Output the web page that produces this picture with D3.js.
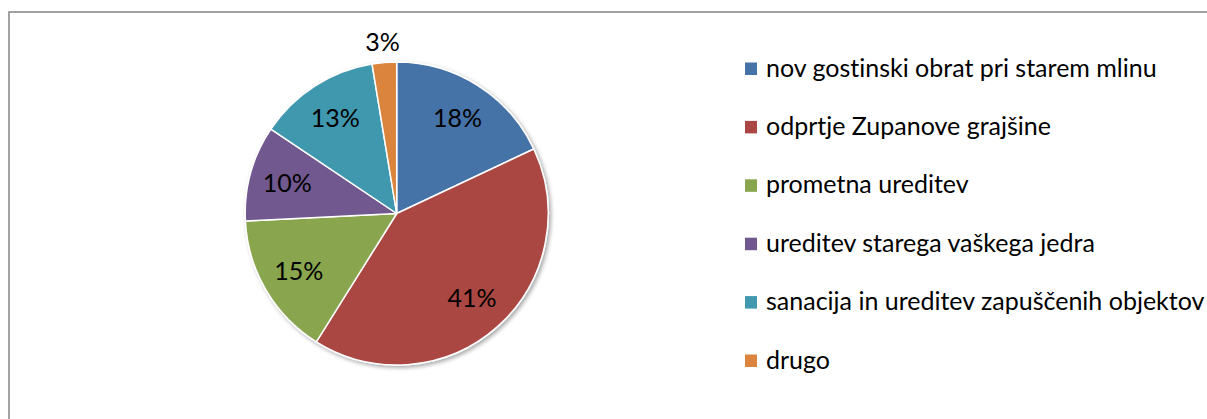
<!DOCTYPE html>
<html>
<head>
<meta charset="utf-8">
<script src="https://cdn.jsdelivr.net/npm/d3@7"></script>
<style>
  html, body { margin: 0; padding: 0; background: #fff; }
  svg { display: block; }
  text { font-family: Lato, "Open Sans", sans-serif; fill: #000; font-variant-ligatures: none; }
</style>
</head>
<body>
<svg id="chart" width="1207" height="419"></svg>
<script>
const categories = [
  "nov gostinski obrat pri starem mlinu",
  "odprtje Zupanove grajšine",
  "prometna ureditev",
  "ureditev starega vaškega jedra",
  "sanacija in ureditev zapuščenih objektov",
  "drugo"
];
const values = [18.0, 40.9, 15.3, 10.2, 13.0, 2.6];
const colors = ["#4572A7", "#AA4643", "#89A54E", "#71588F", "#4198AF", "#DB843D"];

const W = 1207, H = 419;
const svg = d3.select("#chart");

// outer frame
svg.append("rect")
  .attr("x", 9).attr("y", 12)
  .attr("width", W + 20).attr("height", H + 20)
  .attr("fill", "#fff")
  .attr("stroke", "#8c8c8c")
  .attr("stroke-width", 1.6);

const defs = svg.append("defs");
const f = defs.append("filter").attr("id", "shadow")
  .attr("x", "-10%").attr("y", "-10%").attr("width", "120%").attr("height", "120%");
f.append("feGaussianBlur").attr("in", "SourceAlpha").attr("stdDeviation", 2).attr("result", "b");
f.append("feOffset").attr("in", "b").attr("dx", 1.5).attr("dy", 2).attr("result", "o");
f.append("feComponentTransfer").attr("in", "o").attr("result", "s")
  .append("feFuncA").attr("type", "linear").attr("slope", 0.35);
const m = f.append("feMerge");
m.append("feMergeNode").attr("in", "s");
m.append("feMergeNode").attr("in", "SourceGraphic");

const cx = 396.7, cy = 213.5, R = 151.5;
const data = categories.map((c, i) => ({ name: c, value: values[i], color: colors[i] }));

const pie = d3.pie().value(d => d.value).sort(null);
const arcs = pie(data);
const arc = d3.arc().innerRadius(0).outerRadius(R);
const labelArcIn = d3.arc().innerRadius(R * 0.75).outerRadius(R * 0.75);
const labelArcOut = d3.arc().innerRadius(R + 21).outerRadius(R + 21);

const g = svg.append("g").attr("transform", `translate(${cx},${cy})`);
g.append("g").attr("filter", "url(#shadow)")
  .selectAll("path").data(arcs).join("path")
  .attr("d", arc)
  .attr("fill", d => d.data.color)
  .attr("stroke", "#fff")
  .attr("stroke-width", 1.5)
  .attr("stroke-linejoin", "round");

const total = d3.sum(values);
g.selectAll("text.lbl").data(arcs).join("text")
  .attr("class", "lbl")
  .attr("transform", d => {
    const p = (d.data.value / total < 0.05 ? labelArcOut : labelArcIn).centroid(d);
    return `translate(${p[0]},${p[1]})`;
  })
  .attr("text-anchor", "middle")
  .attr("dy", "0.36em")
  .attr("font-size", 25)
  .text(d => Math.round(d.data.value / total * 100) + "%");

// legend
const ly = d3.scalePoint().domain(categories).range([69, 361]);
const leg = svg.append("g").selectAll("g").data(data).join("g")
  .attr("transform", d => `translate(745,${ly(d.name)})`);
leg.append("rect")
  .attr("x", 0).attr("y", -6.5).attr("width", 12).attr("height", 12.5)
  .attr("fill", d => d.color);
leg.append("text")
  .attr("x", 21).attr("y", 7.5)
  .attr("font-size", 25)
  .text(d => d.name);
</script>
</body>
</html>
